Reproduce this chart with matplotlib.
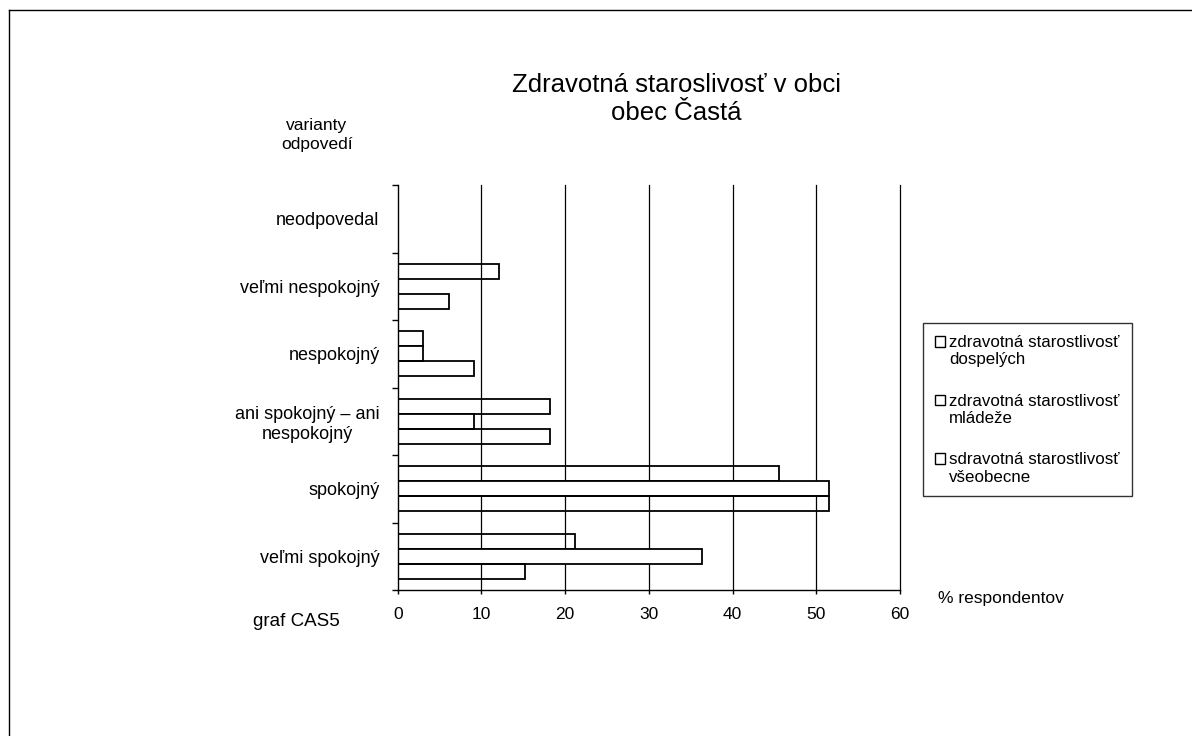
import matplotlib
matplotlib.use("Agg")
import matplotlib.pyplot as plt
import numpy as np
from matplotlib.lines import Line2D

plt.rcParams['font.family'] = ['Liberation Sans', 'DejaVu Sans']

# Data (bottom to top)
categories = ["veľmi spokojný", "spokojný", "ani spokojný – ani\nnespokojný",
              "nespokojný", "veľmi nespokojný", "neodpovedal"]
series_names = ["zdravotná starostlivosť\ndospelých",
                "zdravotná starostlivosť\nmládeže",
                "sdravotná starostlivosť\nvšeobecne"]
dospelych = [21.2, 45.5, 18.2, 3.0, 12.1, 0.0]
mladeze = [36.4, 51.5, 9.1, 3.0, 0.0, 0.0]
vseobecne = [15.2, 51.5, 18.2, 9.1, 6.1, 0.0]
x_ticks = [0, 10, 20, 30, 40, 50, 60]

W, H = 1192, 736
fig = plt.figure(figsize=(W / 100, H / 100), dpi=100)
ax = fig.add_axes([397.7 / W, 1 - 590 / H, (900 - 397.7) / W, (590 - 185) / H])

y = np.arange(len(categories))
h = 0.222
ax.barh(y + h, dospelych, height=h, facecolor='none', edgecolor='black', linewidth=1.3, zorder=3,
        label=series_names[0])
ax.barh(y, mladeze, height=h, facecolor='white', edgecolor='black', linewidth=1.3, zorder=3,
        label=series_names[1])
ax.barh(y - h, vseobecne, height=h, facecolor='none', edgecolor='black', linewidth=1.3, zorder=3,
        label=series_names[2])

ax.set_xlim(0, 60)
ax.set_ylim(-0.5, len(categories) - 0.5)
ax.set_xticks(x_ticks)
ax.set_xticklabels([str(v) for v in x_ticks], fontsize=12.5)
ax.tick_params(axis='x', direction='out', length=3, width=1, pad=9)

ax.set_yticks(y)
ax.set_yticklabels(categories, fontsize=13, multialignment='center')
ax.tick_params(axis='y', which='major', length=0, pad=13)
ax.set_yticks(np.arange(-0.5, len(categories)), minor=True)
ax.tick_params(axis='y', which='minor', direction='out', length=4, width=1)

for v in x_ticks[1:]:
    ax.axvline(v, color='black', linewidth=0.9, zorder=1, clip_on=False)

ax.spines['top'].set_visible(False)
ax.spines['right'].set_visible(False)
for s in ['left', 'bottom']:
    ax.spines[s].set_linewidth(1)
    ax.spines[s].set_zorder(4)

# Title and annotations
fig.text(676 / W, 1 - 85 / H, "Zdravotná staroslivosť v obci", ha='center', va='center', fontsize=18.5)
fig.text(676 / W, 1 - 113 / H, "obec Častá", ha='center', va='center', fontsize=18.5)
fig.text(317 / W, 1 - 135 / H, "varianty\nodpovedí", ha='center', va='center', fontsize=12.5,
         linespacing=1.3)
fig.text(253 / W, 1 - 622 / H, "graf CAS5", ha='left', va='center', fontsize=13.5)
fig.text(938 / W, 1 - 598 / H, "% respondentov", ha='left', va='center', fontsize=12.5)

leg = ax.legend(loc='upper left', bbox_to_anchor=(923 / W, 1 - 323 / H), bbox_transform=fig.transFigure,
                fontsize=12.2, frameon=True, fancybox=False, edgecolor='black',
                handlelength=0.6, handleheight=0.6, handletextpad=0.25, labelspacing=1.55,
                borderpad=0.7, borderaxespad=0)
leg.get_frame().set_linewidth(1)
for t in leg.get_texts():
    t.set_linespacing(1.2)
for hdl in leg.legend_handles:
    hdl.set_facecolor('white')
    hdl.set_linewidth(1)
    hdl.set_y(hdl.get_y() + 7)

# Outer border (left and top)
x0 = 9 / W
y0 = 1 - 10 / H
fig.add_artist(Line2D([x0, x0], [0, y0], transform=fig.transFigure, color='black', linewidth=1))
fig.add_artist(Line2D([x0, 1], [y0, y0], transform=fig.transFigure, color='black', linewidth=1))

fig.savefig("out.png", dpi=100)
